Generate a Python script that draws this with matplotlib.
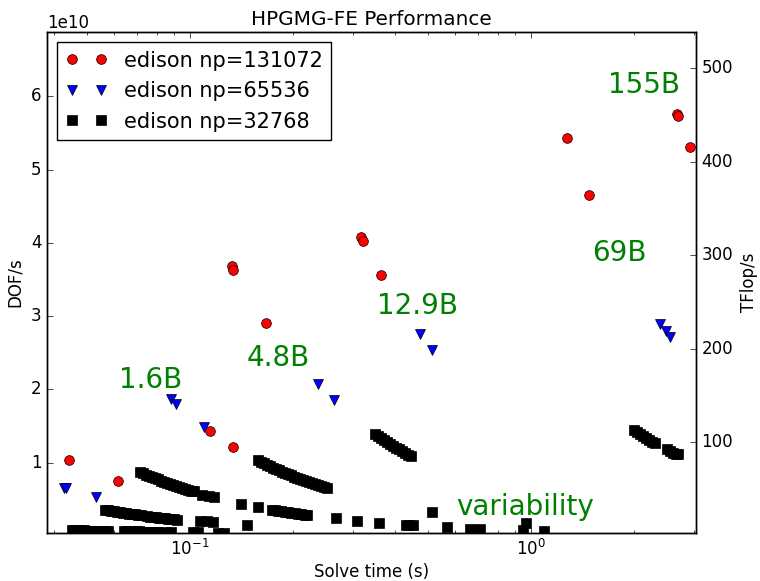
import matplotlib
matplotlib.use("Agg")
import matplotlib.pyplot as plt

plt.style.use("classic")

# ------------------------------------------------------------
# DATA: solve time (s) and DOF/s (in units of 1e10) per run
# ------------------------------------------------------------
t_131072 = [0.0443, 0.0614, 0.1144, 0.1340, 0.1325, 0.1340, 0.1671,
            0.3172, 0.3222, 0.3639, 1.273, 1.479, 2.686, 2.704, 2.926]
dof_131072 = [1.034, 0.751, 1.430, 1.216, 3.689, 3.634, 2.906,
              4.077, 4.026, 3.561, 5.437, 4.654, 5.765, 5.738, 5.314]

t_65536 = [0.0427, 0.0432, 0.0529, 0.0880, 0.0908, 0.1101, 0.2368,
           0.2650, 0.4726, 0.5136, 2.389, 2.489, 2.556]
dof_65536 = [0.648, 0.655, 0.533, 1.863, 1.799, 1.489, 2.072,
             1.854, 2.755, 2.537, 2.892, 2.801, 2.719]

t_32768 = [
    # 0.62B runs
    0.07135, 0.07281, 0.07430, 0.07582, 0.07737, 0.07895, 0.08057, 0.08222,
    0.08390, 0.08562, 0.08735, 0.08914, 0.09096, 0.09282, 0.09473, 0.09667,
    0.09865, 0.1007, 0.1027, 0.1085, 0.1135, 0.1175, 0.1411, 0.1582,
    0.1736, 0.1775, 0.1815, 0.1855, 0.1897, 0.1940, 0.1984, 0.2028,
    0.2074, 0.2121, 0.2169, 0.2200, 0.2676, 0.3094, 0.3589, 0.4300,
    0.4400, 0.4500, 0.5690, 0.6620, 0.7090, 0.9490,
    # 0.2B runs
    0.05632, 0.05747, 0.05865, 0.05985, 0.06108, 0.06233, 0.06361, 0.06491,
    0.06624, 0.06760, 0.06899, 0.07040, 0.07185, 0.07482, 0.07635, 0.07792,
    0.07951, 0.08114, 0.08280, 0.08450, 0.08623, 0.08800, 0.08980, 0.09160,
    0.1070, 0.1120, 0.1170, 0.1466,
    # smallest runs (mostly below the axis)
    0.0451, 0.0460, 0.0470, 0.0480, 0.0490, 0.0500, 0.0510, 0.0520, 0.0530,
    0.0541, 0.0552, 0.0563, 0.0574,
    0.0641, 0.0654, 0.0668, 0.0682, 0.0696, 0.0710, 0.0725, 0.0740, 0.0755,
    0.0770, 0.0785, 0.0799,
    0.0843, 0.0880, 0.1024, 0.1060, 0.1206, 0.1260,
    # 1.6B
    0.1582, 0.1615, 0.1648, 0.1682, 0.1716, 0.1752, 0.1788, 0.1825, 0.1862,
    0.1900, 0.1939, 0.1979, 0.2018, 0.2060, 0.2102, 0.2146, 0.2189, 0.2234,
    0.2279, 0.2326, 0.2373, 0.2422, 0.2472, 0.2522,
    # 4.8B
    0.3487, 0.3559, 0.3632, 0.3706, 0.3782, 0.3859, 0.3938, 0.4019, 0.4101,
    0.4185, 0.4271, 0.4358, 0.4446,
    # largest
    2.005, 2.046, 2.087, 2.130, 2.174, 2.218, 2.264, 2.310,
    2.504, 2.555, 2.609, 2.662, 2.698,
    # outliers
    0.5142, 0.965, 1.092,
]
dof_32768 = [
    0.869, 0.852, 0.834, 0.818, 0.801, 0.785, 0.770, 0.754,
    0.739, 0.724, 0.710, 0.696, 0.682, 0.668, 0.655, 0.641,
    0.628, 0.616, 0.604, 0.560, 0.545, 0.530, 0.440, 0.392,
    0.357, 0.349, 0.342, 0.334, 0.327, 0.320, 0.312, 0.306,
    0.299, 0.292, 0.286, 0.282, 0.238, 0.201, 0.178, 0.146,
    0.146, 0.146, 0.115, 0.092, 0.092, 0.078,
    0.355, 0.348, 0.341, 0.334, 0.327, 0.321, 0.314, 0.308,
    0.302, 0.296, 0.290, 0.284, 0.278, 0.267, 0.262, 0.257,
    0.252, 0.246, 0.242, 0.237, 0.232, 0.227, 0.222, 0.218,
    0.205, 0.198, 0.190, 0.146,
    0.080, 0.078, 0.076, 0.075, 0.073, 0.071, 0.070, 0.068, 0.067,
    0.066, 0.065, 0.063, 0.062,
    0.066, 0.065, 0.063, 0.062, 0.060, 0.059, 0.057, 0.056, 0.054,
    0.053, 0.052, 0.050,
    0.048, 0.046, 0.045, 0.044, 0.043, 0.042,
    1.030, 1.009, 0.989, 0.969, 0.950, 0.930, 0.912, 0.893, 0.875,
    0.858, 0.841, 0.824, 0.808, 0.791, 0.775, 0.760, 0.745, 0.730,
    0.715, 0.701, 0.687, 0.673, 0.659, 0.646,
    1.385, 1.357, 1.330, 1.303, 1.277, 1.252, 1.227, 1.202, 1.178,
    1.154, 1.131, 1.108, 1.086,
    1.445, 1.418, 1.390, 1.363, 1.335, 1.310, 1.285, 1.260,
    1.180, 1.160, 1.135, 1.120, 1.110,
    0.324, 0.169, 0.065,
]

# annotations (text, solve time, DOF/s in 1e10)
note_text = ["1.6B", "4.8B", "12.9B", "69B", "155B", "variability"]
note_t = [0.0619, 0.147, 0.354, 1.51, 1.682, 0.6026]
note_dof = [2.018, 2.318, 3.029, 3.753, 6.044, 0.283]

E10 = 1e10


def scaled(vals):
    return [v * E10 for v in vals]


fig = plt.figure(figsize=(7.6, 5.81), dpi=100, facecolor="white")
ax = fig.add_subplot(111)
fig.subplots_adjust(left=0.0618, right=0.9158, bottom=0.0826, top=0.9449)

ax.plot(t_32768, scaled(dof_32768), "ks", markersize=7, label="edison np=32768")
ax.plot(t_65536, scaled(dof_65536), "bv", markersize=7, label="edison np=65536")
ax.plot(t_131072, scaled(dof_131072), "ro", markersize=7, label="edison np=131072")

ax.set_xscale("log")
ax.set_xlim(0.0381, 3.05)
ax.set_ylim(0.037 * E10, 6.88 * E10)
ax.set_xlabel("Solve time (s)", labelpad=3)
ax.set_ylabel("DOF/s")
ax.set_title("HPGMG-FE Performance")

handles, labels = ax.get_legend_handles_labels()
ax.legend(handles[::-1], labels[::-1], loc="upper left", fontsize=15)

for txt, tx, ty in zip(note_text, note_t, note_dof):
    ax.text(tx, ty * E10, txt, color="green", fontsize=20, ha="left", va="baseline")

# TFlop/s axis on the right
ax2 = ax.twinx()
ax2.set_ylim(2.9, 538.6)
ax2.set_ylabel("TFlop/s")

fig.savefig("out.png", dpi=100, facecolor="white")
